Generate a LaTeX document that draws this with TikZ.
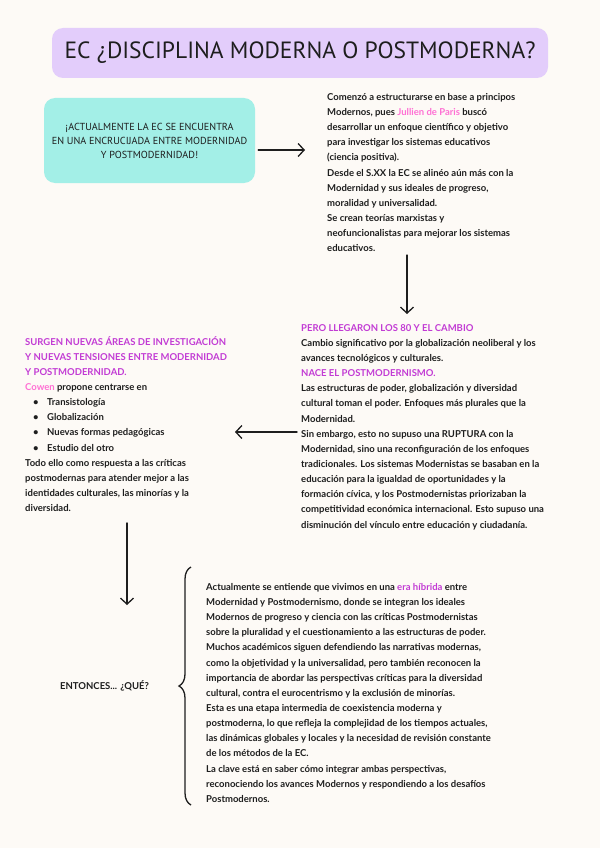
\documentclass[tikz,border=0pt]{standalone}
\usepackage{fontspec}
\setmainfont{Lato}
\newfontfamily\titlefont{PT Sans}
\usetikzlibrary{arrows.meta,decorations.pathreplacing}
\definecolor{bg}{HTML}{FDFAF6}
\definecolor{lav}{HTML}{E3CDFB}
\definecolor{tealbox}{HTML}{A3EFE7}
\definecolor{mag}{HTML}{C23BD4}
\definecolor{pinkname}{HTML}{FF70D4}
\definecolor{ink}{HTML}{1E1E1E}
\tikzset{
  body/.style={anchor=north west, inner sep=0pt, align=left, text=ink,
    font=\bfseries\fontsize{9.5}{15.15}\selectfont},
  arr/.style={draw=ink, line width=1.4pt, line cap=round,
    -{Straight Barb[length=6pt,width=13pt,line width=1.3pt]}},
}
\begin{document}
\begin{tikzpicture}[x=1pt,y=-1pt]
\fill[bg] (0,0) rectangle (600,848);
\useasboundingbox (0,0) rectangle (600,848);

% title
\node[fill=lav, rounded corners=11pt, minimum width=496pt, minimum height=50pt,
  text=ink, font=\titlefont\fontsize{23.5}{25}\selectfont] (title) at (300,53)
  {EC ¿DISCIPLINA MODERNA O POSTMODERNA?};

% teal box
\node[fill=tealbox, rounded corners=11pt, minimum width=211pt, minimum height=85pt,
  align=center, text=ink, font=\titlefont\fontsize{10.2}{14}\selectfont] (teal) at (149.5,140.5)
  {¡ACTUALMENTE LA EC SE ENCUENTRA\\EN UNA ENCRUCIJADA ENTRE MODERNIDAD\\Y POSTMODERNIDAD!};

% top right text
\node[body] (t1) at (327,93) {Comenzó a estructurarse en base a principos\\
Modernos, pues {\color{pinkname}Jullien de Paris} buscó\\
desarrollar un enfoque científico y objetivo\\
para investigar los sistemas educativos\\
(ciencia positiva).\\
Desde el S.XX la EC se alinéo aún más con la\\
Modernidad y sus ideales de progreso,\\
moralidad y universalidad.\\
Se crean teorías marxistas y\\
neofuncionalistas para mejorar los sistemas\\
educativos.};

% middle right text
\node[body] (t2) at (301,324) {{\color{mag}PERO LLEGARON LOS 80 Y EL CAMBIO}\\
Cambio significativo por la globalización neoliberal y los\\
avances tecnológicos y culturales.\\
{\color{mag}NACE EL POSTMODERNISMO.}\\
Las estructuras de poder, globalización y diversidad\\
cultural toman el poder. Enfoques más plurales que la\\
Modernidad.\\
Sin embargo, esto no supuso una RUPTURA con la\\
Modernidad, sino una reconfiguración de los enfoques\\
tradicionales. Los sistemas Modernistas se basaban en la\\
educación para la igualdad de oportunidades y la\\
formación cívica, y los Postmodernistas priorizaban la\\
competitividad económica internacional. Esto supuso una\\
disminución del vínculo entre educación y ciudadanía.};

% left text
\node[body] (t3) at (25,336) {{\color{mag}SURGEN NUEVAS ÁREAS DE INVESTIGACIÓN}\\
{\color{mag}Y NUEVAS TENSIONES ENTRE MODERNIDAD}\\
{\color{mag}Y POSTMODERNIDAD.}\\
{\color{pinkname}Cowen} propone centrarse en\\
\makebox[22pt][l]{\hspace{8pt}\textbullet}Transistología\\
\makebox[22pt][l]{\hspace{8pt}\textbullet}Globalización\\
\makebox[22pt][l]{\hspace{8pt}\textbullet}Nuevas formas pedagógicas\\
\makebox[22pt][l]{\hspace{8pt}\textbullet}Estudio del otro\\
Todo ello como respuesta a las críticas\\
postmodernas para atender mejor a las\\
identidades culturales, las minorías y la\\
diversidad.};

% bottom text
\node[body] (t4) at (206,583) {Actualmente se entiende que vivimos en una {\color{mag}era híbrida} entre\\
Modernidad y Postmodernismo, donde se integran los ideales\\
Modernos de progreso y ciencia con las críticas Postmodernistas\\
sobre la pluralidad y el cuestionamiento a las estructuras de poder.\\
Muchos académicos siguen defendiendo las narrativas modernas,\\
como la objetividad y la universalidad, pero también reconocen la\\
importancia de abordar las perspectivas críticas para la diversidad\\
cultural, contra el eurocentrismo y la exclusión de minorías.\\
Esta es una etapa intermedia de coexistencia moderna y\\
postmoderna, lo que refleja la complejidad de los tiempos actuales,\\
las dinámicas globales y locales y la necesidad de revisión constante\\
de los métodos de la EC.\\
La clave está en saber cómo integrar ambas perspectivas,\\
reconociendo los avances Modernos y respondiendo a los desafíos\\
Postmodernos.};

% entonces
\node[anchor=west, inner sep=0pt, text=ink, font=\bfseries\fontsize{9.5}{12}\selectfont]
  (q) at (60,686) {ENTONCES... ¿QUÉ?};

% connectors
\coordinate (a1s) at ([xshift=3pt,yshift=-9.5pt]teal.east);
\coordinate (a1e) at ([xshift=-22pt]t1.west);
\draw[arr] (a1s) -- (a1s -| a1e);
\coordinate (x407) at (407,0);
\coordinate (d1s) at ([yshift=-3pt]t1.south);
\coordinate (d1e) at ([yshift=10pt]t2.north);
\draw[arr] (d1s -| x407) -- (d1e -| x407);
\coordinate (l1s) at (297,432);
\coordinate (l1e) at (235,432);
\draw[arr] (l1s) -- (l1e);
\coordinate (d2s) at (127,523);
\coordinate (d2e) at (127,605);
\draw[arr] (d2s) -- (d2e);
\coordinate (bb) at (191,805);
\coordinate (bt) at (191,567);
\draw[draw=ink, line width=1.3pt, decorate,
  decoration={brace, amplitude=12pt, aspect=0.5}] (bb) -- (bt);
\end{tikzpicture}
\end{document}
